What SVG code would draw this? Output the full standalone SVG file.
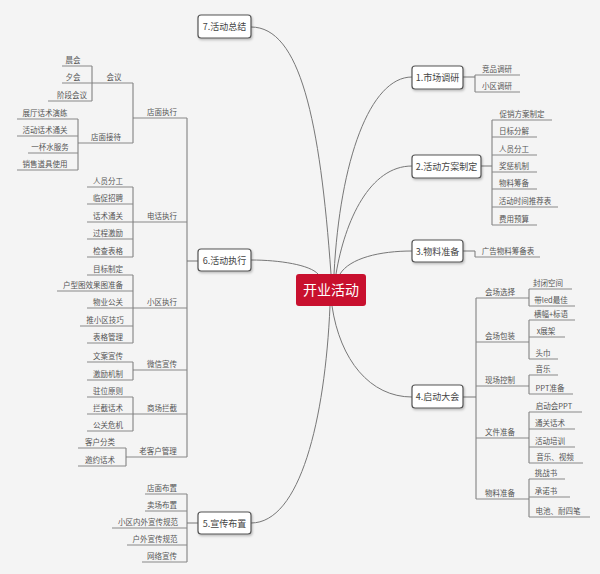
<svg xmlns="http://www.w3.org/2000/svg" width="600" height="574" viewBox="0 0 600 574">
<style>
text{font-family:"Noto Sans CJK SC","Liberation Sans",sans-serif;fill:#555;}
.l{font-size:7.5px;text-anchor:middle;}
.n{font-size:9px;text-anchor:middle;fill:#444;}
.c{font-size:14px;text-anchor:middle;fill:#fff;}
.nb{fill:#fff;stroke:#555;stroke-width:1.2;}
#conn path,#conn line{stroke:#777;stroke-width:1;fill:none;}
#conn .u{stroke:#888;}
</style>
<defs><filter id="sh" x="-20%" y="-20%" width="140%" height="160%"><feDropShadow dx="1" dy="1.5" stdDeviation="0.8" flood-color="#000" flood-opacity="0.25"/></filter></defs>
<rect width="600" height="574" fill="#f4f4f4"/>
<g id="conn">
<path d="M251,27 C300,27 320,120 331,274"/>
<path d="M412,77 C370,77 340,160 334,274"/>
<path d="M412,166 C370,166 345,220 336,274"/>
<path d="M412,251 C380,251 350,258 340,274"/>
<path d="M251,260 C280,260 310,265 318,274"/>
<path d="M332,306 C340,360 370,397 412,397"/>
<path d="M330,306 C325,420 300,523 251,523"/>
<!-- 1 -->
<path d="M463,77 H475 M475,75 V92"/>
<line class="u" x1="475" y1="75" x2="520" y2="75"/><line class="u" x1="475" y1="92" x2="520" y2="92"/>
<!-- 2 -->
<path d="M481,166 H492 M492,120 V225"/>
<line class="u" x1="492" y1="120" x2="552" y2="120"/><line class="u" x1="492" y1="137" x2="537" y2="137"/><line class="u" x1="492" y1="155" x2="537" y2="155"/><line class="u" x1="492" y1="172" x2="537" y2="172"/><line class="u" x1="492" y1="189" x2="537" y2="189"/><line class="u" x1="492" y1="207" x2="558" y2="207"/><line class="u" x1="492" y1="225" x2="537" y2="225"/>
<!-- 3 -->
<path d="M463,251 H475 V257"/><line class="u" x1="475" y1="257" x2="540" y2="257"/>
<!-- 4 -->
<path d="M463,397 H476 M476,298 V499"/>
<line class="u" x1="476" y1="298" x2="529" y2="298"/><line class="u" x1="476" y1="342" x2="529" y2="342"/><line class="u" x1="476" y1="386" x2="529" y2="386"/><line class="u" x1="476" y1="438" x2="529" y2="438"/><line class="u" x1="476" y1="499" x2="529" y2="499"/>
<path d="M529,289 V306 M529,320 V359 M529,375 V394 M529,412 V463 M529,479 V517"/>
<line class="u" x1="529" y1="289" x2="572" y2="289"/><line class="u" x1="529" y1="306" x2="575" y2="306"/>
<line class="u" x1="529" y1="320" x2="575" y2="320"/><line class="u" x1="529" y1="337" x2="565" y2="337"/><line class="u" x1="529" y1="359" x2="558" y2="359"/>
<line class="u" x1="529" y1="375" x2="558" y2="375"/><line class="u" x1="529" y1="394" x2="573" y2="394"/>
<line class="u" x1="529" y1="412" x2="582" y2="412"/><line class="u" x1="529" y1="429" x2="575" y2="429"/><line class="u" x1="529" y1="447" x2="575" y2="447"/><line class="u" x1="529" y1="463" x2="583" y2="463"/>
<line class="u" x1="529" y1="479" x2="565" y2="479"/><line class="u" x1="529" y1="497" x2="570" y2="497"/><line class="u" x1="529" y1="517" x2="590" y2="517"/>
<!-- 6 -->
<path d="M198,261 H187 M187,118 V457"/>
<line class="u" x1="133" y1="118" x2="187" y2="118"/>
<path d="M133,83 V143"/>
<line class="u" x1="92" y1="83" x2="133" y2="83"/><line class="u" x1="78" y1="143" x2="133" y2="143"/>
<path d="M92,66 V101 M78,119 V170"/>
<line class="u" x1="62" y1="66" x2="92" y2="66"/><line class="u" x1="62" y1="83" x2="92" y2="83"/><line class="u" x1="48" y1="101" x2="92" y2="101"/>
<line class="u" x1="17" y1="119" x2="78" y2="119"/><line class="u" x1="17" y1="136" x2="78" y2="136"/><line class="u" x1="28" y1="153" x2="78" y2="153"/><line class="u" x1="17" y1="170" x2="78" y2="170"/>
<line class="u" x1="133" y1="222" x2="187" y2="222"/>
<path d="M133,187 V257"/>
<line class="u" x1="87" y1="187" x2="133" y2="187"/><line class="u" x1="87" y1="204" x2="133" y2="204"/><line class="u" x1="87" y1="222" x2="133" y2="222"/><line class="u" x1="87" y1="239" x2="133" y2="239"/><line class="u" x1="87" y1="257" x2="133" y2="257"/>
<line class="u" x1="133" y1="308" x2="187" y2="308"/>
<path d="M133,275 V343"/>
<line class="u" x1="87" y1="275" x2="133" y2="275"/><line class="u" x1="57" y1="291" x2="133" y2="291"/><line class="u" x1="87" y1="308" x2="133" y2="308"/><line class="u" x1="80" y1="326" x2="133" y2="326"/><line class="u" x1="87" y1="343" x2="133" y2="343"/>
<line class="u" x1="133" y1="370" x2="187" y2="370"/>
<path d="M133,362 V380"/>
<line class="u" x1="87" y1="362" x2="133" y2="362"/><line class="u" x1="87" y1="380" x2="133" y2="380"/>
<line class="u" x1="133" y1="414" x2="187" y2="414"/>
<path d="M133,397 V431"/>
<line class="u" x1="87" y1="397" x2="133" y2="397"/><line class="u" x1="87" y1="414" x2="133" y2="414"/><line class="u" x1="87" y1="431" x2="133" y2="431"/>
<line class="u" x1="126" y1="457" x2="187" y2="457"/>
<path d="M126,448 V466"/>
<line class="u" x1="78" y1="448" x2="126" y2="448"/><line class="u" x1="78" y1="466" x2="126" y2="466"/>
<!-- 5 -->
<path d="M198,523 H187 M187,494 V562"/>
<line class="u" x1="145" y1="494" x2="187" y2="494"/><line class="u" x1="145" y1="511" x2="187" y2="511"/><line class="u" x1="112" y1="528" x2="187" y2="528"/><line class="u" x1="127" y1="545" x2="187" y2="545"/><line class="u" x1="142" y1="562" x2="187" y2="562"/>
</g>
<g id="center"><rect x="296" y="274" width="70" height="32" rx="3" fill="#c8102e"/><text class="c" x="331" y="295">开业活动</text></g>
<g id="n7"><rect class="nb" filter="url(#sh)" x="198" y="15" width="53" height="23" rx="3"/><text class="n" x="224.5" y="30">7.活动总结</text></g>
<g id="n1"><rect class="nb" filter="url(#sh)" x="412" y="66" width="51" height="23" rx="3"/><text class="n" x="437.5" y="81">1.市场调研</text>
<text class="l" x="497" y="72">竞品调研</text><text class="l" x="497" y="89">小区调研</text></g>
<g id="n2"><rect class="nb" filter="url(#sh)" x="412" y="155" width="69" height="23" rx="3"/><text class="n" x="446.5" y="170">2.活动方案制定</text>
<text class="l" x="522" y="117">促销方案制定</text><text class="l" x="514" y="134">日标分解</text><text class="l" x="514" y="152">人员分工</text><text class="l" x="514" y="169">奖惩机制</text><text class="l" x="514" y="186">物料筹备</text><text class="l" x="525" y="204">活动时间推荐表</text><text class="l" x="514" y="222">费用预算</text></g>
<g id="n3"><rect class="nb" filter="url(#sh)" x="412" y="240" width="51" height="22" rx="3"/><text class="n" x="437.5" y="255">3.物料准备</text>
<text class="l" x="508" y="254">广告物料筹备表</text></g>
<g id="n4"><rect class="nb" filter="url(#sh)" x="412" y="385" width="51" height="23" rx="3"/><text class="n" x="437.5" y="400">4.启动大会</text>
<text class="l" x="500" y="295">会场选择</text><text class="l" x="500" y="339">会场包装</text><text class="l" x="500" y="383">现场控制</text><text class="l" x="500" y="435">文件准备</text><text class="l" x="500" y="496">物料准备</text>
<text class="l" x="548" y="286">封闭空间</text><text class="l" x="551" y="303">带led最佳</text>
<text class="l" x="551" y="317">横幅+标语</text><text class="l" x="546" y="334">x展架</text><text class="l" x="543" y="356">头巾</text>
<text class="l" x="543" y="372">音乐</text><text class="l" x="550" y="391">PPT准备</text>
<text class="l" x="554" y="409">启动会PPT</text><text class="l" x="550" y="426">通关话术</text><text class="l" x="550" y="444">活动培训</text><text class="l" x="555" y="460">音乐、视频</text>
<text class="l" x="546" y="476">挑战书</text><text class="l" x="546" y="494">承诺书</text><text class="l" x="558" y="514">电池、耐四笔</text></g>
<g id="n6"><rect class="nb" filter="url(#sh)" x="198" y="249" width="53" height="22" rx="3"/><text class="n" x="224.5" y="264">6.活动执行</text>
<text class="l" x="162" y="115">店面执行</text><text class="l" x="114" y="80">会议</text><text class="l" x="106" y="140">店面接待</text>
<text class="l" x="73" y="63">晨会</text><text class="l" x="73" y="80">夕会</text><text class="l" x="72" y="98">阶段会议</text>
<text class="l" x="45" y="116">展厅话术演练</text><text class="l" x="45" y="133">活动话术通关</text><text class="l" x="50" y="150">一杯水服务</text><text class="l" x="45" y="167">销售道具使用</text>
<text class="l" x="162" y="219">电话执行</text>
<text class="l" x="108" y="184">人员分工</text><text class="l" x="108" y="201">临促招聘</text><text class="l" x="108" y="219">话术通关</text><text class="l" x="108" y="236">过程激励</text><text class="l" x="108" y="254">检查表格</text>
<text class="l" x="162" y="305">小区执行</text>
<text class="l" x="108" y="272">目标制定</text><text class="l" x="93" y="288">户型图效果图准备</text><text class="l" x="108" y="305">物业公关</text><text class="l" x="105" y="323">推小区技巧</text><text class="l" x="108" y="340">表格管理</text>
<text class="l" x="162" y="367">微信宣传</text>
<text class="l" x="108" y="359">文案宣传</text><text class="l" x="108" y="377">激励机制</text>
<text class="l" x="162" y="411">商场拦截</text>
<text class="l" x="108" y="394">驻位原则</text><text class="l" x="108" y="411">拦截话术</text><text class="l" x="108" y="428">公关危机</text>
<text class="l" x="158" y="454">老客户管理</text>
<text class="l" x="100" y="445">客户分类</text><text class="l" x="100" y="463">邀约话术</text></g>
<g id="n5"><rect class="nb" filter="url(#sh)" x="198" y="512" width="53" height="22" rx="3"/><text class="n" x="224.5" y="527">5.宣传布置</text>
<text class="l" x="162" y="491">店面布置</text><text class="l" x="162" y="508">卖场布置</text><text class="l" x="148" y="525">小区内外宣传规范</text><text class="l" x="155" y="542">户外宣传规范</text><text class="l" x="162" y="559">网络宣传</text></g>
</svg>
